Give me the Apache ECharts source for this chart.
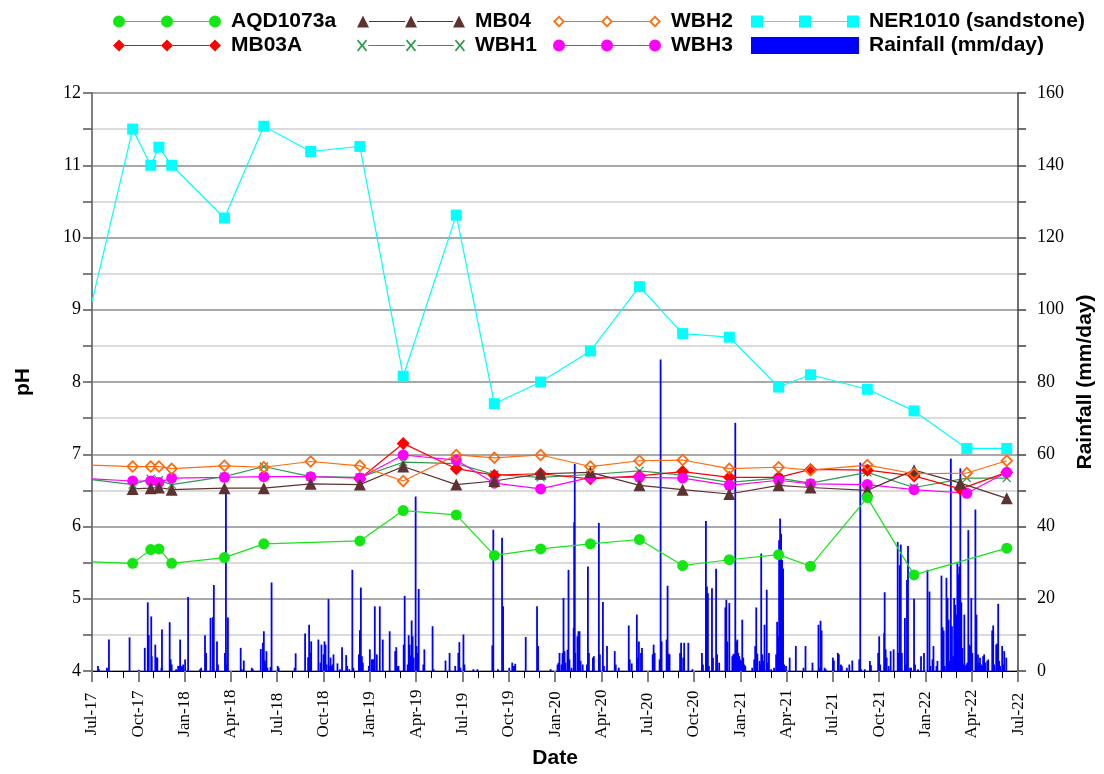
<!DOCTYPE html>
<html><head><meta charset="utf-8">
<script src="https://cdn.jsdelivr.net/npm/echarts@6.0.0/dist/echarts.min.js"></script>
<style>html,body{margin:0;padding:0;background:#fff}#c{width:1104px;height:774px}</style>
</head><body><div id="c"></div>
<script>
// ---------- tick labels ----------
const xTickLabels = ['Jul-17','Oct-17','Jan-18','Apr-18','Jul-18','Oct-18','Jan-19','Apr-19','Jul-19','Oct-19','Jan-20','Apr-20','Jul-20','Oct-20','Jan-21','Apr-21','Jul-21','Oct-21','Jan-22','Apr-22','Jul-22'];

// ---------- pH sampling dates (first entry = value where line enters the plot at Jul-17) ----------
const sampleDates = ['2017-07-01','2017-09-20','2017-10-26','2017-11-11','2017-12-06','2018-03-19','2018-06-05','2018-09-06','2018-12-12','2019-03-06','2019-06-19','2019-09-03','2019-12-03','2020-03-10','2020-06-15','2020-09-09','2020-12-10','2021-03-16','2021-05-18','2021-09-08','2021-12-09','2022-03-09','2022-03-22','2022-06-09'];

// ---------- pH series ----------
const AQD1073a = [5.51,5.49,5.68,5.69,5.49,5.57,5.76,null,5.80,6.22,6.16,5.60,5.69,5.76,5.82,5.46,5.54,5.61,5.45,6.40,5.33,null,null,5.70];
const MB04     = [null,6.52,6.53,6.54,6.51,6.53,6.53,6.59,6.58,6.83,6.58,6.63,6.73,6.75,6.57,6.51,6.45,6.57,6.54,6.50,6.78,6.60,null,6.39];
const WBH2     = [6.85,6.83,6.83,6.83,6.80,6.84,6.82,6.90,6.84,6.63,6.99,6.95,6.99,6.83,6.91,6.92,6.80,6.82,6.78,6.85,6.73,null,6.74,6.91];
const NER1010  = [9.11,11.50,11.00,11.25,11.00,10.27,11.54,11.19,11.26,8.08,10.31,7.70,8.00,8.43,9.32,8.67,8.62,7.93,8.10,7.90,7.60,null,7.08,7.08];
const MB03A    = [null,null,null,null,null,null,null,null,6.66,7.15,6.80,6.71,6.73,6.66,6.70,6.76,6.68,6.68,6.79,6.78,6.70,6.52,null,6.75];
const WBH1     = [6.65,6.58,6.66,6.64,6.58,6.69,6.83,6.69,6.68,6.89,6.87,6.72,6.68,6.72,6.77,6.71,6.61,6.67,6.60,6.75,6.54,null,6.67,6.67];
const WBH3     = [6.66,6.63,6.63,6.61,6.67,6.68,6.69,6.69,6.67,6.99,6.92,6.60,6.52,6.68,6.68,6.67,6.57,6.64,6.59,6.58,6.51,null,6.46,6.75];

// ---------- daily rainfall (mm/day) ----------
const rainfall = [
['2017-07-13',1.4],['2017-07-15',0.5],['2017-07-31',0.9],['2017-08-04',8.7],['2017-09-14',9.3],['2017-10-02',0.3],['2017-10-14',6.4],['2017-10-20',19.0],['2017-10-22',9.9],['2017-10-27',15.1],['2017-10-28',4.1],['2017-11-04',7.3],['2017-11-06',3.8],['2017-11-08',3.7],['2017-11-16',0.9],['2017-11-17',11.5],['2017-12-02',13.5],['2017-12-04',3.2],['2017-12-06',1.8],['2017-12-15',0.5],['2017-12-19',1.4],['2017-12-22',1.4],['2017-12-23',8.7],['2017-12-25',1.4],['2017-12-27',1.1],['2017-12-29',1.8],
['2018-01-02',3.2],['2018-01-08',20.5],['2018-02-01',0.5],['2018-02-03',0.9],['2018-02-10',9.9],['2018-02-12',5.0],['2018-02-20',14.7],['2018-02-24',14.9],['2018-02-26',23.8],['2018-03-04',8.2],['2018-03-06',1.8],['2018-03-20',5.0],['2018-03-22',49.0],['2018-03-24',1.8],['2018-03-26',14.8],['2018-04-20',6.4],['2018-04-22',0.5],['2018-04-26',2.9],['2018-05-12',0.9],['2018-05-14',0.5],['2018-05-30',6.1],['2018-06-03',7.8],['2018-06-05',11.0],['2018-06-07',2.9],['2018-06-09',2.3],['2018-06-10',5.5],['2018-06-12',0.9],['2018-06-18',1.1],['2018-06-20',24.5],
['2018-07-02',1.4],['2018-07-04',0.9],['2018-08-05',0.9],['2018-08-07',4.9],['2018-08-26',10.4],['2018-09-01',3.8],['2018-09-03',12.8],['2018-09-05',5.0],['2018-09-07',8.2],['2018-09-21',8.7],['2018-09-25',2.3],['2018-09-27',7.3],['2018-10-01',4.6],['2018-10-03',8.2],['2018-10-05',7.3],['2018-10-07',1.8],['2018-10-11',19.9],['2018-10-13',1.4],['2018-10-15',3.7],['2018-10-17',1.4],['2018-10-19',1.8],['2018-10-21',4.6],['2018-10-29',2.1],['2018-11-03',0.5],['2018-11-07',6.6],['2018-11-15',4.4],['2018-11-17',1.4],['2018-11-21',0.5],['2018-11-27',28.0],['2018-11-29',0.9],['2018-12-10',4.6],['2018-12-12',11.3],['2018-12-14',23.1],['2018-12-16',4.1],['2018-12-18',2.3],['2018-12-30',1.4],
['2019-01-01',6.0],['2019-01-05',3.2],['2019-01-07',3.2],['2019-01-09',3.2],['2019-01-11',17.9],['2019-01-15',4.6],['2019-01-21',17.9],['2019-01-27',8.7],['2019-02-09',11.0],['2019-02-19',5.5],['2019-02-21',6.6],['2019-02-23',1.4],['2019-02-25',1.4],['2019-03-07',7.3],['2019-03-09',20.8],['2019-03-15',1.8],['2019-03-17',9.9],['2019-03-19',7.3],['2019-03-21',4.4],['2019-03-23',14.0],['2019-03-25',9.6],['2019-03-27',3.7],['2019-03-31',48.3],['2019-04-02',6.9],['2019-04-04',5.0],['2019-04-06',22.7],['2019-04-15',1.8],['2019-04-17',6.0],['2019-05-03',12.4],['2019-05-05',0.5],['2019-05-29',2.9],['2019-06-06',5.0],['2019-06-17',1.4],['2019-06-23',5.0],['2019-06-25',8.0],['2019-06-27',0.9],
['2019-07-03',10.1],['2019-07-05',1.8],['2019-07-23',0.5],['2019-07-31',0.5],['2019-08-30',7.1],['2019-09-01',39.1],['2019-09-10',0.5],['2019-09-18',36.9],['2019-09-20',17.9],['2019-10-02',0.9],['2019-10-08',2.3],['2019-10-10',1.4],['2019-10-12',1.4],['2019-10-14',2.0],['2019-11-04',9.4],['2019-11-26',17.9],['2019-11-28',6.9],['2019-12-23',0.5],
['2020-01-06',1.8],['2020-01-08',2.3],['2020-01-10',5.0],['2020-01-14',1.8],['2020-01-16',5.0],['2020-01-18',20.2],['2020-01-20',5.5],['2020-01-22',2.3],['2020-01-26',5.9],['2020-01-28',28.0],['2020-01-30',3.2],['2020-02-03',0.9],['2020-02-07',11.9],['2020-02-08',41.2],['2020-02-09',57.3],['2020-02-10',5.0],['2020-02-14',9.6],['2020-02-16',11.0],['2020-02-18',11.0],['2020-02-20',2.8],['2020-02-24',1.8],['2020-03-03',1.8],['2020-03-05',28.9],['2020-03-07',5.0],['2020-03-15',3.7],['2020-03-17',4.1],['2020-03-27',41.0],['2020-03-29',4.6],['2020-04-04',19.1],['2020-04-06',1.4],['2020-04-12',6.9],['2020-04-27',5.5],['2020-04-29',1.8],['2020-05-05',0.9],['2020-05-25',12.6],['2020-05-27',3.2],['2020-05-31',2.1],['2020-06-10',15.6],['2020-06-12',3.7],['2020-06-14',8.2],['2020-06-18',5.0],['2020-06-20',6.4],
['2020-07-11',4.6],['2020-07-13',7.3],['2020-07-15',5.0],['2020-07-25',3.2],['2020-07-27',86.2],['2020-07-29',8.2],['2020-08-08',8.7],['2020-08-10',23.6],['2020-08-12',4.8],['2020-08-14',4.6],['2020-09-04',5.0],['2020-09-06',7.8],['2020-09-10',3.7],['2020-09-12',7.8],['2020-09-20',7.8],['2020-09-28',0.5],['2020-10-17',5.0],['2020-10-19',1.8],['2020-10-25',41.5],['2020-10-27',23.4],['2020-10-29',21.5],['2020-10-31',1.4],['2020-11-06',22.9],['2020-11-08',3.7],['2020-11-14',28.3],['2020-11-16',4.6],['2020-11-20',2.3],['2020-12-02',17.6],['2020-12-04',19.7],['2020-12-06',8.2],['2020-12-10',18.8],['2020-12-16',4.1],['2020-12-18',4.6],['2020-12-20',4.8],['2020-12-22',68.7],['2020-12-24',8.2],['2020-12-26',8.7],['2020-12-28',5.0],['2020-12-30',4.1],
['2021-01-01',3.2],['2021-01-03',2.8],['2021-01-05',14.2],['2021-01-07',3.7],['2021-01-09',1.8],['2021-01-11',1.4],['2021-01-25',0.9],['2021-01-29',3.2],['2021-01-31',6.9],['2021-02-02',17.6],['2021-02-04',4.8],['2021-02-08',2.8],['2021-02-10',1.8],['2021-02-11',32.5],['2021-02-13',4.6],['2021-02-15',2.8],['2021-02-17',12.8],['2021-02-21',22.5],['2021-02-23',2.3],['2021-02-25',5.0],['2021-03-01',0.5],['2021-03-07',0.9],['2021-03-11',4.6],['2021-03-13',13.6],['2021-03-15',9.6],['2021-03-17',36.2],['2021-03-19',42.2],['2021-03-21',38.0],['2021-03-23',30.7],['2021-03-25',28.4],['2021-03-27',1.8],['2021-03-31',1.4],['2021-04-07',3.7],['2021-04-19',6.9],['2021-05-04',0.9],['2021-05-08',6.9],['2021-05-22',2.3],['2021-06-03',12.8],['2021-06-05',0.9],['2021-06-07',13.9],['2021-06-09',11.2],['2021-06-15',0.9],['2021-06-17',0.5],
['2021-07-01',3.7],['2021-07-03',2.9],['2021-07-11',5.0],['2021-07-13',4.6],['2021-07-17',1.8],['2021-07-19',1.4],['2021-07-29',0.9],['2021-08-03',1.8],['2021-08-09',2.9],['2021-08-23',3.2],['2021-08-25',57.7],['2021-08-27',0.5],['2021-09-03',0.5],['2021-09-13',2.8],['2021-09-15',1.6],['2021-09-29',5.0],['2021-10-01',9.6],['2021-10-03',1.8],['2021-10-11',10.5],['2021-10-12',21.8],['2021-10-14',6.0],['2021-10-16',3.7],['2021-10-20',1.4],['2021-10-24',5.5],['2021-10-30',6.0],['2021-11-07',35.7],['2021-11-09',5.0],['2021-11-11',29.3],['2021-11-13',35.0],['2021-11-15',5.0],['2021-11-21',14.7],['2021-11-23',1.8],['2021-11-25',25.2],['2021-11-27',34.6],['2021-12-01',0.9],['2021-12-03',0.9],['2021-12-09',20.0],['2021-12-11',1.8],['2021-12-17',0.5],['2021-12-23',4.1],['2021-12-29',5.0],
['2022-01-05',28.0],['2022-01-09',22.0],['2022-01-11',1.4],['2022-01-15',3.2],['2022-01-17',6.9],['2022-01-23',1.4],['2022-01-25',2.8],['2022-02-02',26.4],['2022-02-04',12.1],['2022-02-06',11.2],['2022-02-08',1.4],['2022-02-11',25.8],['2022-02-13',20.2],['2022-02-15',14.2],['2022-02-17',2.8],['2022-02-19',58.8],['2022-02-21',12.4],['2022-02-23',4.1],['2022-02-25',20.2],['2022-02-27',18.3],['2022-03-01',15.6],['2022-03-03',29.8],['2022-03-05',26.8],['2022-03-07',28.9],['2022-03-09',56.1],['2022-03-11',19.0],['2022-03-13',6.4],['2022-03-15',1.8],['2022-03-17',15.6],['2022-03-19',1.4],['2022-03-21',1.8],['2022-03-23',2.3],['2022-03-25',39.0],['2022-03-27',7.3],['2022-03-29',6.9],['2022-03-31',20.2],['2022-04-02',5.0],['2022-04-08',44.7],['2022-04-10',15.6],['2022-04-11',1.4],['2022-04-13',4.6],['2022-04-15',2.3],['2022-04-17',3.7],['2022-04-19',1.8],['2022-04-21',1.4],['2022-04-23',4.1],['2022-04-25',4.6],['2022-04-27',2.3],['2022-05-01',2.8],['2022-05-03',3.2],['2022-05-11',11.2],['2022-05-13',12.6],['2022-05-15',1.8],['2022-05-19',7.3],['2022-05-21',7.6],['2022-05-23',18.6],['2022-05-25',2.8],['2022-05-27',1.4],['2022-05-31',6.9],['2022-06-02',1.8],['2022-06-04',5.5],['2022-06-08',3.7]
];

// ---------- helpers ----------
function toMonths(s){
  const p = s.split('-').map(Number);
  const dim = new Date(Date.UTC(p[0], p[1], 0)).getUTCDate();
  return (p[0]-2017)*12 + (p[1]-7) + (p[2]-1)/dim;
}
function lineData(vals){
  const out = [];
  vals.forEach((v,i)=>{
    if (v == null) return;
    const item = {value:[toMonths(sampleDates[i]), v]};
    if (i === 0) item.symbol = 'none';
    out.push(item);
  });
  return out;
}
const SYM = {
  ring: 'path://M6,0 L12,6 L6,12 L0,6 Z M6,2.3 L2.3,6 L6,9.7 L9.7,6 Z',
  cross: 'path://M0,1 L1,0 L5,4 L9,0 L10,1 L6,5 L10,9 L9,10 L5,6 L1,10 L0,9 L4,5 Z'
};
// legend icon: three markers joined by a line, drawn in a 108 x 12 box
const CX = [6, 54, 102];
function seg(){ return 'M12,5.4 L48,5.4 L48,6.6 L12,6.6 Z M60,5.4 L96,5.4 L96,6.6 L60,6.6 Z '; }
function iconOf(kind){
  let p = seg();
  CX.forEach(c=>{
    if (kind==='circle') p += `M${c-6},6 A6,6 0 1,1 ${c+6},6 A6,6 0 1,1 ${c-6},6 Z `;
    if (kind==='triangle') p += `M${c-6},12 L${c},0 L${c+6},12 Z `;
    if (kind==='diamond') p += `M${c},0 L${c+6},6 L${c},12 L${c-6},6 Z `;
    if (kind==='ring') p += `M${c},0 L${c+6},6 L${c},12 L${c-6},6 Z M${c},2.6 L${c-3.4},6 L${c},9.4 L${c+3.4},6 Z `;
    if (kind==='square') p += `M${c-6},0 L${c+6},0 L${c+6},12 L${c-6},12 Z `;
    if (kind==='cross') p += `M${c-5},1.2 L${c-3.8},0 L${c},4.8 L${c+3.8},0 L${c+5},1.2 L${c+1.2},6 L${c+5},10.8 L${c+3.8},12 L${c},7.2 L${c-3.8},12 L${c-5},10.8 L${c-1.2},6 Z `;
  });
  return 'path://' + p;
}

const COL = {AQD:'#14E614', MB04:'#5C3331', WBH2:'#FF6A0D', NER:'#00FFFF', MB03A:'#FF0000', WBH1:'#2E9A4E', WBH3:'#FF00FF', rain:'#0000FF'};
const legendText = {fontFamily:'Liberation Sans, Arial', fontWeight:'bold', fontSize:21, color:'#000', padding:[0,0,0,5]};
function legendBlock(left, top, items, h){
  return {left, top, orient:'vertical', itemWidth:108, itemHeight:h||12, itemGap:3,
    symbolKeepAspect:false, selectedMode:false, itemStyle:{borderWidth:0},
    textStyle:legendText, data:items};
}

function lineSeries(name, vals, color, symbol, size){
  return {name, type:'line', xAxisIndex:0, yAxisIndex:0, data:lineData(vals),
    symbol, symbolSize:size, showAllSymbol:true, connectNulls:true,
    lineStyle:{color, width:1.2}, itemStyle:{color, borderWidth:0},
    emphasis:{disabled:true}, animation:false, clip:true};
}

const chart = echarts.init(document.getElementById('c'), null, {renderer:'canvas'});
chart.setOption({
  animation:false,
  backgroundColor:'#fff',
  grid:{left:92, right:84, top:93, bottom:99, containLabel:false},
  legend:[
    legendBlock(108, 6, [{name:'AQD1073a', icon:iconOf('circle')},{name:'MB03A', icon:iconOf('diamond')}]),
    legendBlock(352, 6, [{name:'MB04', icon:iconOf('triangle')},{name:'WBH1', icon:iconOf('cross')}]),
    legendBlock(548, 6, [{name:'WBH2', icon:iconOf('ring')},{name:'WBH3', icon:iconOf('circle')}]),
    legendBlock(746, 6, [{name:'NER1010 (sandstone)', icon:iconOf('square')}]),
    legendBlock(746, 30, [{name:'Rainfall (mm/day)', icon:'rect'}], 17)
  ],
  xAxis:{
    type:'value', min:0, max:60, interval:3,
    name:'Date', nameLocation:'middle', nameGap:77,
    nameTextStyle:{fontFamily:'Liberation Sans, Arial', fontWeight:'bold', fontSize:21, color:'#000'},
    axisLine:{onZero:false, lineStyle:{color:'#000', width:1}},
    axisTick:{show:true, length:11, lineStyle:{color:'#808080', width:2}},
    minorTick:{show:true, splitNumber:3, length:7, lineStyle:{color:'#000', width:1}},
    splitLine:{show:false},
    axisLabel:{rotate:90, align:'center', verticalAlign:'middle', margin:43,
      fontFamily:'Liberation Serif, Times New Roman', fontSize:17, color:'#000',
      formatter:v=>xTickLabels[Math.round(v/3)] || ''}
  },
  yAxis:[{
    type:'value', min:4, max:12, interval:1, position:'left',
    name:'pH', nameLocation:'middle', nameGap:58, nameRotate:90,
    nameTextStyle:{fontFamily:'Liberation Sans, Arial', fontWeight:'bold', fontSize:21, color:'#000'},
    axisLine:{show:true, lineStyle:{color:'#7f7f7f', width:2}},
    axisTick:{show:true, length:9, lineStyle:{color:'#555', width:1.5}},
    minorTick:{show:true, splitNumber:2, length:9, lineStyle:{color:'#555', width:1.5}},
    splitLine:{show:true, lineStyle:{color:'#8c8c8c', width:1.6}},
    minorSplitLine:{show:true, lineStyle:{color:'#cfcfcf', width:1.6}},
    axisLabel:{margin:11, fontFamily:'Liberation Serif, Times New Roman', fontSize:18, color:'#000'}
  },{
    type:'value', min:0, max:160, interval:20, position:'right',
    name:'Rainfall (mm/day)', nameLocation:'middle', nameGap:55, nameRotate:90,
    nameTextStyle:{fontFamily:'Liberation Sans, Arial', fontWeight:'bold', fontSize:21, color:'#000'},
    axisLine:{show:true, lineStyle:{color:'#404040', width:1.5}},
    axisTick:{show:true, length:8, lineStyle:{color:'#404040', width:1.5}},
    minorTick:{show:true, splitNumber:2, length:8, lineStyle:{color:'#404040', width:1.5}},
    splitLine:{show:false},
    axisLabel:{margin:19, fontFamily:'Liberation Serif, Times New Roman', fontSize:18, color:'#000'}
  }],
  series:[
    {name:'Rainfall (mm/day)', type:'bar', xAxisIndex:0, yAxisIndex:1, barWidth:1.8,
     itemStyle:{color:COL.rain}, data:rainfall.map(r=>[toMonths(r[0]), r[1]]),
     emphasis:{disabled:true}, animation:false, z:1},
    lineSeries('WBH1', WBH1, COL.WBH1, SYM.cross, 9),
    lineSeries('MB03A', MB03A, COL.MB03A, 'diamond', 13),
    lineSeries('WBH3', WBH3, COL.WBH3, 'circle', 11),
    lineSeries('MB04', MB04, COL.MB04, 'triangle', 12),
    lineSeries('WBH2', WBH2, COL.WBH2, SYM.ring, 13),
    lineSeries('AQD1073a', AQD1073a, COL.AQD, 'circle', 11),
    lineSeries('NER1010 (sandstone)', NER1010, COL.NER, 'rect', 11)
  ]
});
</script></body></html>
